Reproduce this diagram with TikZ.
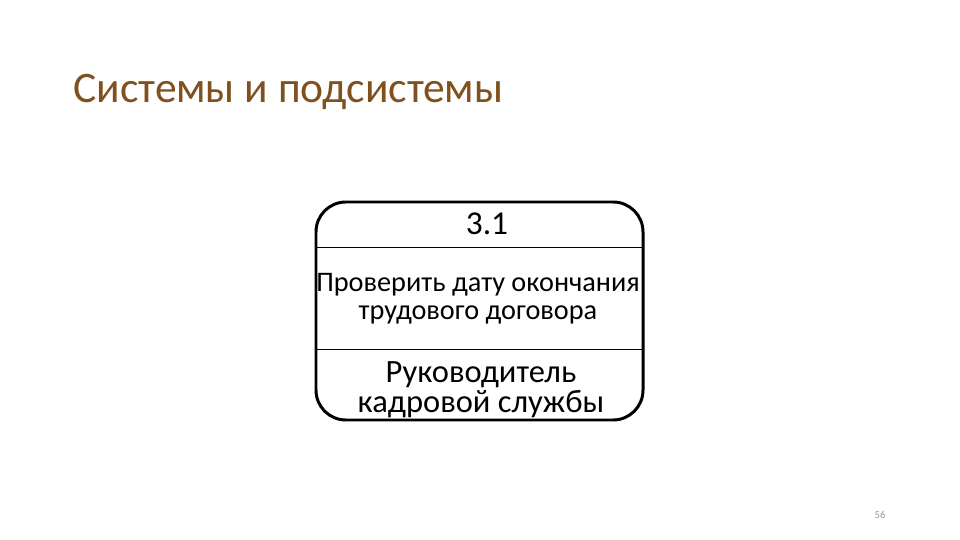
\documentclass[tikz,border=0pt]{standalone}
\usepackage{fontspec}
\setmainfont{Carlito}
\usepackage{xcolor}
\definecolor{titlebrown}{RGB}{128,80,30}
\definecolor{pagegray}{RGB}{150,150,150}

\tikzset{
    slidetitle/.style={anchor=base west, inner sep=0pt, text=titlebrown, font=\fontsize{24.8}{28}\selectfont},
    boxtext/.style={anchor=base, inner sep=0pt},
    processbox/.style={line width=1.7pt, rounded corners=17pt}
}

\begin{document}
\begin{tikzpicture}[x=0.02cm, y=-0.02cm]
    \useasboundingbox (0,0) rectangle (960,540);

    % Title
    \node[slidetitle] (title) at (73,103) {Системы и подсистемы};

    % Draw the process box
    \draw[processbox] (316,202) rectangle (643,420);

    % Draw dividing lines
    \draw[line width=0.5pt] (316,247) -- (643,247);
    \draw[line width=0.5pt] (316,349) -- (643,349);

    % Labels
    \node[boxtext, font=\fontsize{19}{22}\selectfont] (num) at (487,235) {3.1};
    \node[boxtext, font=\fontsize{16.1}{20}\selectfont] (task1) at (478,292) {Проверить дату окончания};
    \node[boxtext, font=\fontsize{16.1}{20}\selectfont] (task2) at (478,320) {трудового договора};
    \node[boxtext, font=\fontsize{18.5}{22}\selectfont] (who1) at (481,382) {Руководитель};
    \node[boxtext, font=\fontsize{18.5}{22}\selectfont] (who2) at (481,413) {кадровой службы};

    % Page number
    \node[boxtext, text=pagegray, font=\fontsize{6}{7}\selectfont] (page) at (880,518) {56};
\end{tikzpicture}
\end{document}
